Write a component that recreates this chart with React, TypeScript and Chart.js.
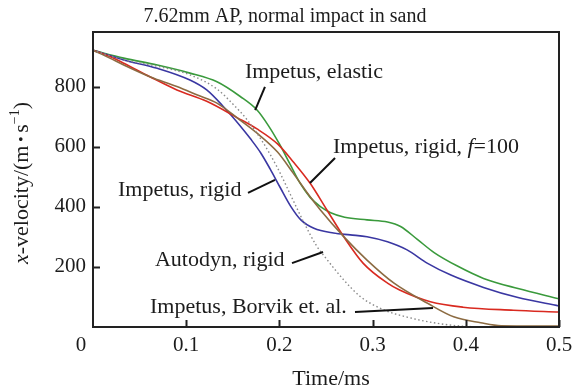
import React, { useEffect, useRef } from "react";
import { Chart, registerables } from "chart.js";

Chart.register(...registerables);

const FONT = '"Liberation Serif", "Times New Roman", serif';

// ---- data (time in ms, x-velocity in m/s) ----
const elasticT = [0, 0.033, 0.069, 0.104, 0.133, 0.158, 0.176, 0.188, 0.200, 0.211, 0.222, 0.233, 0.244, 0.255, 0.270, 0.294, 0.316, 0.330, 0.348, 0.366, 0.391, 0.419, 0.456, 0.5];
const elasticV = [922, 896, 873, 846, 817, 768, 723, 672, 610, 545, 480, 432, 401, 381, 366, 357, 350, 335, 292, 248, 203, 162, 128, 94];

const rigidT = [0, 0.033, 0.069, 0.104, 0.122, 0.140, 0.158, 0.169, 0.180, 0.190, 0.201, 0.212, 0.223, 0.237, 0.258, 0.276, 0.294, 0.316, 0.337, 0.359, 0.384, 0.419, 0.456, 0.5];
const rigidV = [922, 890, 862, 823, 790, 734, 670, 627, 580, 527, 464, 403, 357, 329, 313, 307, 301, 284, 257, 212, 173, 132, 98, 70];

const rigidF100T = [0, 0.018, 0.033, 0.061, 0.090, 0.122, 0.155, 0.176, 0.198, 0.215, 0.233, 0.251, 0.269, 0.290, 0.316, 0.329, 0.362, 0.397, 0.451, 0.5];
const rigidF100V = [922, 901, 879, 834, 790, 752, 697, 660, 610, 550, 479, 390, 301, 212, 146, 123, 84, 66, 56, 50];

const borvikT = [0, 0.018, 0.033, 0.061, 0.090, 0.112, 0.133, 0.155, 0.176, 0.198, 0.215, 0.233, 0.244, 0.269, 0.294, 0.323, 0.359, 0.387, 0.416, 0.438, 0.5];
const borvikV = [922, 896, 873, 834, 801, 773, 746, 696, 646, 583, 512, 434, 390, 301, 223, 146, 79, 34, 14, 4, 3];

const autodynT = [0, 0.033, 0.069, 0.104, 0.133, 0.151, 0.165, 0.183, 0.198, 0.212, 0.226, 0.240, 0.251, 0.269, 0.287, 0.312, 0.337, 0.366, 0.395, 0.43];
const autodynV = [922, 890, 869, 840, 793, 740, 692, 612, 530, 440, 350, 270, 225, 157, 101, 57, 33, 14, 3, 0];

// ---- axes ----
const xTickValues = [0.1, 0.2, 0.3, 0.4, 0.5];
const yTickValues = [200, 400, 600, 800];
const xMax = 0.5;
const yMax = 983;

// ---- annotations ----
const annText: [string, boolean][][] = [
  [["Impetus, elastic", false]],
  [["Impetus, rigid, ", false], ["f", true], ["=100", false]],
  [["Impetus, rigid", false]],
  [["Autodyn, rigid", false]],
  [["Impetus, Borvik et. al.", false]],
];
const annTextT = [0.163, 0.2575, 0.0268, 0.0665, 0.0612];
const annTextV = [850, 600, 457, 223, 67];
const annLineT0 = [0.1845, 0.2597, 0.1663, 0.2135, 0.2811];
const annLineV0 = [800, 563, 447, 213, 50];
const annLineT1 = [0.174, 0.2328, 0.1953, 0.2468, 0.3648];
const annLineV1 = [723, 480, 490, 250, 63];

const titleText = "7.62mm AP, normal impact in sand";
const xTitle = "Time/ms";

const TEXT = "#1c1c1c";

function pts(t: number[], v: number[]) {
  return t.map((tt, i) => ({ x: tt, y: v[i] }));
}

function drawSegments(ctx: CanvasRenderingContext2D, segs: [string, boolean][], x: number, y: number, size: number) {
  let cx = x;
  for (const [s, it] of segs) {
    ctx.font = `${it ? "italic " : ""}${size}px ${FONT}`;
    ctx.fillText(s, cx, y);
    cx += ctx.measureText(s).width;
  }
}

const decorPlugin = {
  id: "decor",
  afterDraw(chart: any) {
    const { ctx, chartArea, scales } = chart;
    const { left, right, top, bottom } = chartArea;
    const x = scales.x;
    const y = scales.y;
    ctx.save();
    // frame
    ctx.strokeStyle = "#222";
    ctx.lineWidth = 2;
    ctx.strokeRect(left, top, right - left, bottom - top);
    // inner tick marks
    ctx.beginPath();
    xTickValues.forEach((v) => {
      const px = Math.round(x.getPixelForValue(v)) + 0.5;
      ctx.moveTo(px, bottom);
      ctx.lineTo(px, bottom - 7);
    });
    yTickValues.forEach((v) => {
      const py = Math.round(y.getPixelForValue(v)) + 0.5;
      ctx.moveTo(left, py);
      ctx.lineTo(left + 7, py);
    });
    ctx.stroke();

    // shared origin label
    ctx.fillStyle = TEXT;
    ctx.font = `21px ${FONT}`;
    ctx.textAlign = "center";
    ctx.textBaseline = "middle";
    ctx.fillText("0", left - 12, bottom + 18);

    // title
    ctx.font = `20px ${FONT}`;
    ctx.fillText(titleText, 285, 17);

    // x title
    ctx.font = `22px ${FONT}`;
    ctx.fillText(xTitle, (left + right) / 2 + 5, 379);

    // y title (rotated)
    ctx.save();
    ctx.translate(22, 183);
    ctx.rotate(-Math.PI / 2);
    ctx.textAlign = "left";
    const parts: [string, string, number][] = [
      ["x", `italic 22px ${FONT}`, 0],
      ["-velocity/(m", `22px ${FONT}`, 0],
      [" \u2022 ", `15px ${FONT}`, 0],
      ["s", `22px ${FONT}`, 0],
      ["\u22121", `14px ${FONT}`, -7],
      [")", `22px ${FONT}`, 0],
    ];
    let w = 0;
    parts.forEach(([s, f]) => {
      ctx.font = f;
      w += ctx.measureText(s).width;
    });
    let cx = -w / 2;
    parts.forEach(([s, f, dy]) => {
      ctx.font = f;
      ctx.fillText(s, cx, dy);
      cx += ctx.measureText(s).width;
    });
    ctx.restore();

    // annotations
    ctx.textAlign = "left";
    ctx.textBaseline = "middle";
    ctx.strokeStyle = "#111";
    ctx.lineWidth = 2;
    annText.forEach((segs, i) => {
      drawSegments(ctx, segs, x.getPixelForValue(annTextT[i]), y.getPixelForValue(annTextV[i]), 22);
      ctx.beginPath();
      ctx.moveTo(x.getPixelForValue(annLineT0[i]), y.getPixelForValue(annLineV0[i]));
      ctx.lineTo(x.getPixelForValue(annLineT1[i]), y.getPixelForValue(annLineV1[i]));
      ctx.stroke();
    });
    ctx.restore();
  },
};

export default function App() {
  const ref = useRef<HTMLCanvasElement>(null);
  useEffect(() => {
    if (!ref.current) return;
    const line = (data: any, color: string, extra: any = {}) => ({
      data,
      borderColor: color,
      backgroundColor: color,
      borderWidth: 1.6,
      pointRadius: 0,
      tension: 0.4,
      cubicInterpolationMode: "monotone",
      fill: false,
      ...extra,
    });
    const chart = new Chart(ref.current, {
      type: "line",
      data: {
        datasets: [
          line(pts(autodynT, autodynV), "#8a8a8a", { borderDash: [1.5, 2.5], borderWidth: 1.4 }),
          line(pts(borvikT, borvikV), "#8c6b42"),
          line(pts(rigidF100T, rigidF100V), "#d92a20"),
          line(pts(rigidT, rigidV), "#3a37a2"),
          line(pts(elasticT, elasticV), "#3a9a3c"),
        ] as any,
      },
      options: {
        responsive: false,
        animation: false,
        devicePixelRatio: 1,
        layout: { padding: { top: 32, right: 24, left: 0, bottom: 0 } },
        plugins: { legend: { display: false }, title: { display: false }, tooltip: { enabled: false } },
        scales: {
          x: {
            type: "linear",
            min: 0,
            max: xMax,
            grid: { display: false, drawTicks: false },
            border: { display: false },
            afterBuildTicks: (s: any) => {
              s.ticks = xTickValues.map((v) => ({ value: v }));
            },
            ticks: {
              padding: 6,
              color: TEXT,
              font: { family: FONT, size: 21 },
              maxRotation: 0,
              autoSkip: false,
              callback: (v: any) => Number(v).toFixed(1),
            },
            afterFit: (s: any) => {
              s.height = 62;
            },
          },
          y: {
            type: "linear",
            min: 0,
            max: yMax,
            grid: { display: false, drawTicks: false },
            border: { display: false },
            afterBuildTicks: (s: any) => {
              s.ticks = yTickValues.map((v) => ({ value: v }));
            },
            ticks: {
              padding: 7,
              color: TEXT,
              autoSkip: false,
              font: { family: FONT, size: 21 },
              callback: (v: any) => String(v),
            },
            afterFit: (s: any) => {
              s.width = 93;
            },
          },
        },
      } as any,
      plugins: [decorPlugin],
    });
    return () => chart.destroy();
  }, []);
  return (
    <div style={{ position: "fixed", left: 0, top: 0, width: 583, height: 389, background: "#fff" }}>
      <canvas ref={ref} width={583} height={389} style={{ display: "block" }} />
    </div>
  );
}
